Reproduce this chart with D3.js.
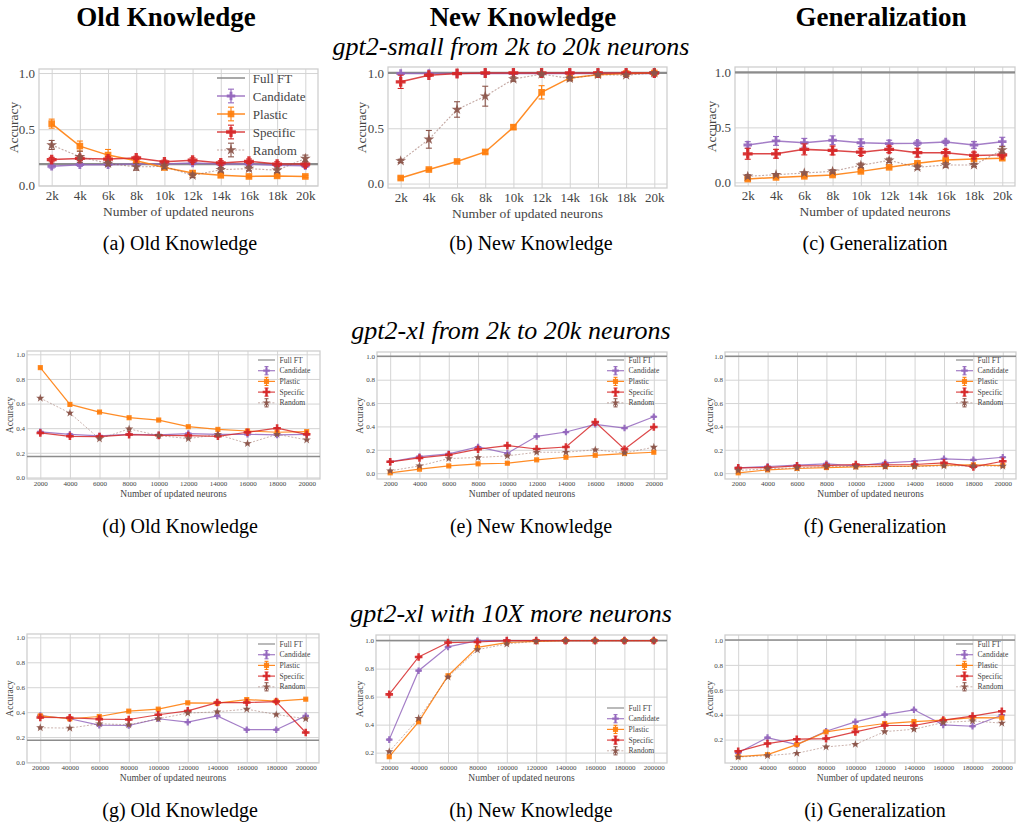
<!DOCTYPE html>
<html>
<head>
<meta charset="utf-8">
<script src="https://cdn.jsdelivr.net/npm/d3@7/dist/d3.min.js"></script>
<style>
  body { margin: 0; background: #fff; }
  svg { display: block; }
</style>
</head>
<body>
<svg id="fig" width="1018" height="827"></svg>
<script>
// ---- x values and tick labels ----
const xSmall = [2000, 4000, 6000, 8000, 10000, 12000, 14000, 16000, 18000, 20000];
const xSmallLabels = ["2k", "4k", "6k", "8k", "10k", "12k", "14k", "16k", "18k", "20k"];
const xXl = [2000, 4000, 6000, 8000, 10000, 12000, 14000, 16000, 18000, 20000];
const xXlLabels = ["2000", "4000", "6000", "8000", "10000", "12000", "14000", "16000", "18000", "20000"];
const xWide = [20000, 40000, 60000, 80000, 100000, 120000, 140000, 160000, 180000, 200000];
const xWideLabels = ["20000", "40000", "60000", "80000", "100000", "120000", "140000", "160000", "180000", "200000"];

const seriesNames = ["Candidate", "Plastic", "Specific", "Random"];
const columnTitles = ["Old Knowledge", "New Knowledge", "Generalization"];
const rowTitles = ["gpt2-small from 2k to 20k neurons", "gpt2-xl from 2k to 20k neurons", "gpt2-xl with 10X more neurons"];
const captions = ["(a) Old Knowledge", "(b) New Knowledge", "(c) Generalization",
                  "(d) Old Knowledge", "(e) New Knowledge", "(f) Generalization",
                  "(g) Old Knowledge", "(h) New Knowledge", "(i) Generalization"];

// ---- Full fine-tuning reference accuracy per panel ----
const fullFT = [0.19, 1.0, 1.0, 0.17, 1.0, 1.0, 0.175, 1.0, 1.0];

// ---- gpt2-small, 2k..20k ----
const smallOldCandidate = [0.17, 0.185, 0.185, 0.19, 0.19, 0.20, 0.19, 0.19, 0.18, 0.175];
const smallOldPlastic   = [0.55, 0.35, 0.27, 0.22, 0.16, 0.11, 0.09, 0.08, 0.085, 0.08];
const smallOldSpecific  = [0.23, 0.24, 0.235, 0.245, 0.21, 0.225, 0.20, 0.215, 0.19, 0.19];
const smallOldRandom    = [0.36, 0.255, 0.195, 0.165, 0.17, 0.09, 0.14, 0.15, 0.135, 0.24];
const smallOldCandidateErr = [0.015, 0.015, 0.015, 0.015, 0.015, 0.015, 0.015, 0.015, 0.015, 0.015];
const smallOldPlasticErr   = [0.04, 0.045, 0.05, 0.02, 0.02, 0.02, 0.015, 0.01, 0.01, 0.01];
const smallOldSpecificErr  = [0.02, 0.02, 0.02, 0.015, 0.015, 0.02, 0.02, 0.02, 0.02, 0.02];
const smallOldRandomErr    = [0.04, 0.05, 0.02, 0.03, 0.02, 0.02, 0.02, 0.02, 0.02, 0.03];

const smallNewCandidate = [0.995, 0.995, 0.995, 0.995, 0.995, 0.995, 0.995, 0.995, 0.995, 0.995];
const smallNewPlastic   = [0.05, 0.127, 0.20, 0.286, 0.51, 0.825, 0.955, 0.985, 0.995, 1.0];
const smallNewSpecific  = [0.92, 0.98, 0.995, 1.0, 1.0, 1.0, 1.0, 1.0, 1.0, 1.0];
const smallNewRandom    = [0.205, 0.40, 0.67, 0.79, 0.945, 0.99, 0.95, 0.985, 0.98, 1.0];
const smallNewCandidateErr = [0.005, 0.005, 0.005, 0.005, 0.005, 0.005, 0.005, 0.005, 0.005, 0.005];
const smallNewPlasticErr   = [0.01, 0.01, 0.01, 0.015, 0.02, 0.06, 0.015, 0.01, 0.01, 0.005];
const smallNewSpecificErr  = [0.06, 0.01, 0.005, 0.005, 0.005, 0.005, 0.005, 0.005, 0.005, 0.005];
const smallNewRandomErr    = [0.015, 0.08, 0.07, 0.09, 0.02, 0.01, 0.02, 0.01, 0.01, 0.005];

const smallGenCandidate = [0.34, 0.377, 0.36, 0.383, 0.36, 0.353, 0.356, 0.368, 0.34, 0.37];
const smallGenPlastic   = [0.03, 0.045, 0.055, 0.067, 0.10, 0.137, 0.173, 0.204, 0.213, 0.22];
const smallGenSpecific  = [0.26, 0.26, 0.30, 0.29, 0.275, 0.30, 0.27, 0.27, 0.245, 0.25];
const smallGenRandom    = [0.055, 0.07, 0.085, 0.10, 0.155, 0.20, 0.137, 0.158, 0.158, 0.295];
const smallGenCandidateErr = [0.03, 0.04, 0.04, 0.04, 0.035, 0.03, 0.02, 0.015, 0.03, 0.04];
const smallGenPlasticErr   = [0.01, 0.01, 0.01, 0.01, 0.01, 0.01, 0.01, 0.01, 0.01, 0.015];
const smallGenSpecificErr  = [0.05, 0.04, 0.05, 0.04, 0.03, 0.03, 0.04, 0.03, 0.03, 0.02];
const smallGenRandomErr    = [0.015, 0.01, 0.01, 0.015, 0.02, 0.02, 0.02, 0.02, 0.015, 0.03];

// ---- gpt2-xl, 2k..20k ----
const xlOldCandidate = [0.37, 0.35, 0.337, 0.35, 0.345, 0.356, 0.35, 0.35, 0.345, 0.35];
const xlOldPlastic   = [0.892, 0.593, 0.531, 0.485, 0.466, 0.412, 0.39, 0.377, 0.367, 0.372];
const xlOldSpecific  = [0.361, 0.334, 0.332, 0.348, 0.342, 0.34, 0.334, 0.367, 0.40, 0.35];
const xlOldRandom    = [0.644, 0.523, 0.313, 0.394, 0.34, 0.315, 0.348, 0.275, 0.35, 0.305];

const xlNewCandidate = [0.097, 0.142, 0.165, 0.224, 0.17, 0.315, 0.352, 0.418, 0.386, 0.483];
const xlNewPlastic   = [0.003, 0.034, 0.062, 0.08, 0.085, 0.114, 0.136, 0.153, 0.168, 0.179];
const xlNewSpecific  = [0.097, 0.13, 0.156, 0.205, 0.236, 0.207, 0.224, 0.437, 0.205, 0.395];
const xlNewRandom    = [0.02, 0.062, 0.125, 0.134, 0.148, 0.179, 0.179, 0.20, 0.173, 0.222];

const xlGenCandidate = [0.045, 0.057, 0.068, 0.08, 0.062, 0.088, 0.102, 0.122, 0.114, 0.136];
const xlGenPlastic   = [0.003, 0.028, 0.04, 0.048, 0.054, 0.057, 0.06, 0.068, 0.071, 0.065];
const xlGenSpecific  = [0.045, 0.048, 0.062, 0.065, 0.074, 0.071, 0.074, 0.088, 0.054, 0.102];
const xlGenRandom    = [0.023, 0.037, 0.045, 0.057, 0.057, 0.057, 0.057, 0.062, 0.062, 0.06];

// ---- gpt2-xl, 20k..200k ----
const wideOldCandidate = [0.373, 0.347, 0.296, 0.293, 0.347, 0.32, 0.37, 0.259, 0.259, 0.37];
const wideOldPlastic   = [0.37, 0.347, 0.365, 0.408, 0.424, 0.475, 0.472, 0.501, 0.488, 0.504];
const wideOldSpecific  = [0.357, 0.355, 0.344, 0.341, 0.379, 0.41, 0.477, 0.477, 0.485, 0.237];
const wideOldRandom    = [0.275, 0.272, 0.307, 0.299, 0.347, 0.392, 0.403, 0.424, 0.381, 0.347];

const wideNewCandidate = [0.293, 0.785, 0.955, 1.0, 1.0, 1.0, 1.0, 1.0, 1.0, 1.0];
const wideNewPlastic   = [0.171, 0.42, 0.749, 0.952, 0.986, 0.995, 1.0, 1.0, 1.0, 1.0];
const wideNewSpecific  = [0.616, 0.883, 0.986, 0.99, 1.0, 1.0, 1.0, 1.0, 1.0, 1.0];
const wideNewRandom    = [0.207, 0.444, 0.74, 0.935, 0.976, 0.995, 1.0, 1.0, 1.0, 1.0];

const wideGenCandidate = [0.094, 0.216, 0.16, 0.267, 0.342, 0.401, 0.439, 0.318, 0.307, 0.396];
const wideGenPlastic   = [0.063, 0.079, 0.16, 0.262, 0.297, 0.329, 0.345, 0.356, 0.377, 0.375];
const wideGenSpecific  = [0.106, 0.168, 0.203, 0.208, 0.262, 0.313, 0.313, 0.356, 0.388, 0.428];
const wideGenRandom    = [0.06, 0.071, 0.09, 0.141, 0.162, 0.264, 0.283, 0.337, 0.35, 0.332];

// small spread used for the xl runs
const xlErr = [0.005, 0.005, 0.005, 0.005, 0.005, 0.005, 0.005, 0.005, 0.005, 0.005];

// ---- series appearance ----
const seriesStyle = {
  Candidate: { color: "#9467bd", marker: d3.symbolCross,  dash: null,    lineOpacity: 0.85, mSize: 1.0 },
  Plastic:   { color: "#ff7f0e", marker: d3.symbolSquare, dash: null,    lineOpacity: 0.9,  mSize: 1.1 },
  Specific:  { color: "#d62728", marker: d3.symbolCross,  dash: null,    lineOpacity: 0.85, mSize: 1.35 },
  Random:    { color: "#8c564b", marker: d3.symbolStar,   dash: "2,1.6", lineOpacity: 0.5,  mSize: 0.9 }
};

// ---- panel layout ----
const bigText  = { tick: 13, label: 13.5, legend: 13, marker: 40, line: 1.5, ft: 2.2, cap: 3, legRow: 18, legLine: 28 };
const tinyText = { tick: 7, label: 9.5, legend: 7.6, marker: 24, line: 1.2, ft: 1.5, cap: 2, legRow: 10.7, legLine: 17 };

const panels = [
  { box: [39, 69, 318, 186], x: xSmall, labels: xSmallLabels, ydom: [-0.005, 1.036], yticks: [0, 0.5, 1.0], t: bigText,
    ylabX: 13, ft: fullFT[0], legend: [217, 78],
    data: [smallOldCandidate, smallOldPlastic, smallOldSpecific, smallOldRandom],
    err: [smallOldCandidateErr, smallOldPlasticErr, smallOldSpecificErr, smallOldRandomErr] },
  { box: [388, 67, 667, 188], x: xSmall, labels: xSmallLabels, ydom: [-0.04, 1.054], yticks: [0, 0.5, 1.0], t: bigText,
    ylabX: 361, ft: fullFT[1], legend: null,
    data: [smallNewCandidate, smallNewPlastic, smallNewSpecific, smallNewRandom],
    err: [smallNewCandidateErr, smallNewPlasticErr, smallNewSpecificErr, smallNewRandomErr] },
  { box: [735, 67, 1015, 186], x: xSmall, labels: xSmallLabels, ydom: [-0.033, 1.049], yticks: [0, 0.5, 1.0], t: bigText,
    ylabX: 711, ft: fullFT[2], legend: null,
    data: [smallGenCandidate, smallGenPlastic, smallGenSpecific, smallGenRandom],
    err: [smallGenCandidateErr, smallGenPlasticErr, smallGenSpecificErr, smallGenRandomErr] },

  { box: [27, 351, 320, 479], x: xXl, labels: xXlLabels, ydom: [-0.013, 1.027], yticks: [0, 0.2, 0.4, 0.6, 0.8, 1.0], t: tinyText,
    ylabX: 10, ft: fullFT[3], legend: [258, 360],
    data: [xlOldCandidate, xlOldPlastic, xlOldSpecific, xlOldRandom], err: [xlErr, xlErr, xlErr, xlErr] },
  { box: [377, 352, 667, 479], x: xXl, labels: xXlLabels, ydom: [-0.05, 1.037], yticks: [0, 0.2, 0.4, 0.6, 0.8, 1.0], t: tinyText,
    ylabX: 360, ft: fullFT[4], legend: [607, 360],
    data: [xlNewCandidate, xlNewPlastic, xlNewSpecific, xlNewRandom], err: [xlErr, xlErr, xlErr, xlErr] },
  { box: [725, 352, 1016, 479], x: xXl, labels: xXlLabels, ydom: [-0.05, 1.037], yticks: [0, 0.2, 0.4, 0.6, 0.8, 1.0], t: tinyText,
    ylabX: 710, ft: fullFT[5], legend: [956, 360],
    data: [xlGenCandidate, xlGenPlastic, xlGenSpecific, xlGenRandom], err: [xlErr, xlErr, xlErr, xlErr] },

  { box: [27, 634, 319, 763], x: xWide, labels: xWideLabels, ydom: [-0.008, 1.027], yticks: [0, 0.2, 0.4, 0.6, 0.8, 1.0], t: tinyText,
    ylabX: 10, ft: fullFT[6], legend: [258, 644],
    data: [wideOldCandidate, wideOldPlastic, wideOldSpecific, wideOldRandom], err: [xlErr, xlErr, xlErr, xlErr] },
  { box: [376, 635, 667, 763], x: xWide, labels: xWideLabels, ydom: [0.126, 1.04], yticks: [0.2, 0.4, 0.6, 0.8, 1.0], t: tinyText,
    ylabX: 360, ft: fullFT[7], legend: [607, 708],
    data: [wideNewCandidate, wideNewPlastic, wideNewSpecific, wideNewRandom], err: [xlErr, xlErr, xlErr, xlErr] },
  { box: [725, 635, 1015, 763], x: xWide, labels: xWideLabels, ydom: [0.012, 1.04], yticks: [0.2, 0.4, 0.6, 0.8, 1.0], t: tinyText,
    ylabX: 710, ft: fullFT[8], legend: [956, 644],
    data: [wideGenCandidate, wideGenPlastic, wideGenSpecific, wideGenRandom], err: [xlErr, xlErr, xlErr, xlErr] }
];

const svg = d3.select("#fig");
const SERIF = "'Liberation Serif', 'Times New Roman', serif";
const TICK_COLOR = "#444";
const GRID_COLOR = "#d4d4d4";
const FT_COLOR = "#8c8c8c";

function drawPanel(p) {
  const [x0, y0, x1, y1] = p.box;
  const t = p.t;
  const n = p.x.length;
  const span = p.x[n - 1] - p.x[0];
  const xs = d3.scaleLinear().domain([p.x[0] - span * 0.05, p.x[n - 1] + span * 0.05]).range([x0, x1]);
  const ys = d3.scaleLinear().domain(p.ydom).range([y1, y0]);
  const g = svg.append("g");

  // grid lines drawn through the axis generators
  const gx = g.append("g").attr("transform", `translate(0,${y1})`)
    .call(d3.axisBottom(xs).tickValues(p.x).tickSize(-(y1 - y0)).tickFormat(""));
  const gy = g.append("g").attr("transform", `translate(${x0},0)`)
    .call(d3.axisLeft(ys).tickValues(p.yticks).tickSize(-(x1 - x0)).tickFormat(""));
  [gx, gy].forEach(a => {
    a.select(".domain").remove();
    a.selectAll(".tick line").attr("stroke", GRID_COLOR).attr("stroke-width", 1);
  });

  // frame
  g.append("rect").attr("x", x0).attr("y", y0).attr("width", x1 - x0).attr("height", y1 - y0)
    .attr("fill", "none").attr("stroke", "#cfcfcf").attr("stroke-width", 1.3);

  // tick labels
  const lx = g.append("g").attr("transform", `translate(0,${y1})`)
    .call(d3.axisBottom(xs).tickValues(p.x).tickSize(0).tickPadding(t.tick * 0.35)
      .tickFormat((d, i) => p.labels[i]));
  const ly = g.append("g").attr("transform", `translate(${x0},0)`)
    .call(d3.axisLeft(ys).tickValues(p.yticks).tickSize(0).tickPadding(t.tick * 0.3)
      .tickFormat(d3.format(".1f")));
  [lx, ly].forEach(a => {
    a.select(".domain").remove();
    a.selectAll("text").attr("font-family", SERIF).attr("font-size", t.tick).attr("fill", TICK_COLOR);
  });

  // axis titles
  g.append("text").attr("x", (x0 + x1) / 2).attr("y", y1 + t.tick * 1.25 + t.label * 1.0)
    .attr("text-anchor", "middle").attr("font-family", SERIF).attr("font-size", t.label).attr("fill", TICK_COLOR)
    .text("Number of updated neurons");
  g.append("text").attr("transform", `translate(${p.ylabX},${(y0 + y1) / 2}) rotate(-90)`)
    .attr("text-anchor", "middle").attr("dominant-baseline", "central")
    .attr("font-family", SERIF).attr("font-size", t.label).attr("fill", TICK_COLOR)
    .text("Accuracy");

  // clip to the axes box
  const clipId = "clip" + Math.round(x0) + "_" + Math.round(y0);
  svg.append("clipPath").attr("id", clipId).append("rect")
    .attr("x", x0).attr("y", y0).attr("width", x1 - x0).attr("height", y1 - y0);
  const body = g.append("g").attr("clip-path", `url(#${clipId})`);

  // full fine-tuning reference
  body.append("line").attr("x1", x0).attr("x2", x1).attr("y1", ys(p.ft)).attr("y2", ys(p.ft))
    .attr("stroke", FT_COLOR).attr("stroke-width", t.ft);

  const line = d3.line().x(d => xs(d[0])).y(d => ys(d[1]));

  seriesNames.forEach((name, si) => {
    const st = seriesStyle[name];
    const vals = p.data[si];
    const errs = p.err[si];
    const pts = p.x.map((xv, i) => [xv, vals[i], errs[i]]);
    const sg = body.append("g");
    sg.append("path").datum(pts).attr("d", line).attr("fill", "none").attr("opacity", st.lineOpacity)
      .attr("stroke", st.color).attr("stroke-width", name === "Random" ? t.line * 0.75 : t.line)
      .attr("stroke-dasharray", st.dash);
    // error bars
    pts.forEach(d => {
      const cx = xs(d[0]);
      const ya = ys(d[1] - d[2]), yb = ys(d[1] + d[2]);
      sg.append("line").attr("x1", cx).attr("x2", cx).attr("y1", ya).attr("y2", yb)
        .attr("stroke", st.color).attr("stroke-width", 1.1);
      [ya, yb].forEach(yy => sg.append("line").attr("x1", cx - t.cap).attr("x2", cx + t.cap)
        .attr("y1", yy).attr("y2", yy).attr("stroke", st.color).attr("stroke-width", 1.1));
    });
    // markers
    sg.selectAll("path.mk").data(pts).enter().append("path").attr("class", "mk")
      .attr("transform", d => `translate(${xs(d[0])},${ys(d[1])})`)
      .attr("d", d3.symbol().type(st.marker).size(t.marker * st.mSize))
      .attr("fill", st.color).attr("opacity", 0.92);
  });

  if (p.legend) drawLegend(g, p.legend[0], p.legend[1], t);
}

function drawLegend(g, lx, ly, t) {
  const entries = ["Full FT"].concat(seriesNames);
  entries.forEach((name, i) => {
    const yy = ly + i * t.legRow;
    const xa = lx, xb = lx + t.legLine, xm = (xa + xb) / 2;
    if (name === "Full FT") {
      g.append("line").attr("x1", xa).attr("x2", xb).attr("y1", yy).attr("y2", yy)
        .attr("stroke", FT_COLOR).attr("stroke-width", t.line);
    } else {
      const st = seriesStyle[name];
      const eg = g.append("g");
      eg.append("line").attr("x1", xa).attr("x2", xb).attr("y1", yy).attr("y2", yy).attr("opacity", st.lineOpacity)
        .attr("stroke", st.color).attr("stroke-width", name === "Random" ? t.line * 0.75 : t.line)
        .attr("stroke-dasharray", st.dash);
      const eh = t.legRow * 0.38;
      eg.append("line").attr("x1", xm).attr("x2", xm).attr("y1", yy - eh).attr("y2", yy + eh)
        .attr("stroke", st.color).attr("stroke-width", 1.1);
      [yy - eh, yy + eh].forEach(v => eg.append("line").attr("x1", xm - t.cap).attr("x2", xm + t.cap)
        .attr("y1", v).attr("y2", v).attr("stroke", st.color).attr("stroke-width", 1.1));
      eg.append("path").attr("transform", `translate(${xm},${yy})`)
        .attr("d", d3.symbol().type(st.marker).size(t.marker * st.mSize)).attr("fill", st.color).attr("opacity", 0.92);
    }
    g.append("text").attr("x", xb + t.legend * 0.6).attr("y", yy).attr("dominant-baseline", "central")
      .attr("font-family", SERIF).attr("font-size", t.legend).attr("fill", TICK_COLOR).text(name);
  });
}

panels.forEach(drawPanel);

// ---- column headers, row headings, captions ----
const colCenters = [166, 523, 881];
columnTitles.forEach((txt, i) => {
  svg.append("text").attr("x", colCenters[i]).attr("y", 26).attr("text-anchor", "middle")
    .attr("font-family", SERIF).attr("font-weight", "bold").attr("font-size", 27).attr("fill", "#000").text(txt);
});
const rowHeadY = [55, 339, 622];
rowTitles.forEach((txt, i) => {
  svg.append("text").attr("x", 511).attr("y", rowHeadY[i]).attr("text-anchor", "middle")
    .attr("font-family", SERIF).attr("font-style", "italic").attr("font-size", 26).attr("fill", "#000").text(txt);
});
const capCenters = [180, 531, 875];
const capY = [250, 533, 817];
captions.forEach((txt, i) => {
  svg.append("text").attr("x", capCenters[i % 3]).attr("y", capY[Math.floor(i / 3)]).attr("text-anchor", "middle")
    .attr("font-family", SERIF).attr("font-size", 20).attr("fill", "#000").text(txt);
});
</script>
</body>
</html>
